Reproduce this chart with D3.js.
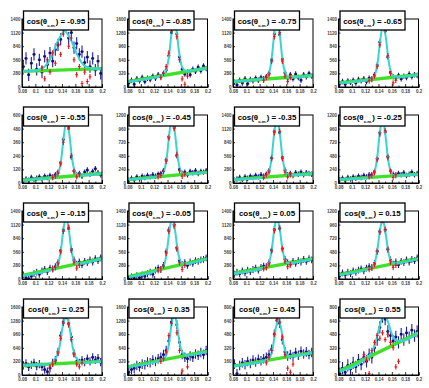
<!DOCTYPE html>
<html>
<head>
<meta charset="utf-8">
<script src="https://cdn.jsdelivr.net/npm/d3@7"></script>
<style>
body { margin: 0; background: #fff; }
svg { display: block; font-family: "Liberation Sans", Arial, sans-serif; }
.axis path, .axis line { stroke: #000; stroke-width: 0.8; }
.axis text { font-size: 4.5px; font-weight: bold; fill: #444; }
.frame { fill: none; stroke: #000; stroke-width: 1; }
.title-box { fill: #fff; stroke: #000; stroke-width: 1.3; }
.title { font-size: 7.9px; font-weight: bold; fill: #000; }
</style>
</head>
<body>
<svg id="chart"></svg>
<script>
// cos(theta_cm) bins, one panel each
const labels = ['-0.95', '-0.85', '-0.75', '-0.65', '-0.55', '-0.45', '-0.35', '-0.25',
                '-0.15', '-0.05', '0.05', '0.15', '0.25', '0.35', '0.45', '0.55'];

// top of y axis in counts (value 100 on the plot scale)
const yTop = [1400, 1600, 1400, 1400, 600, 1200, 1400, 1200, 1400, 1400, 1400, 1200, 1600, 1600, 800, 800];

const xTicks = [0.08, 0.1, 0.12, 0.14, 0.16, 0.18, 0.2];
const xMinor = [0.09, 0.11, 0.13, 0.15, 0.17, 0.19];

const binCenters = [0.082, 0.086, 0.09, 0.094, 0.098, 0.102, 0.106, 0.11, 0.114, 0.118,
                    0.122, 0.126, 0.13, 0.134, 0.138, 0.142, 0.146, 0.15, 0.154, 0.158,
                    0.162, 0.166, 0.17, 0.174, 0.178, 0.182, 0.186, 0.19, 0.194, 0.198];

// data histograms (blue), in percent of the y range
const blue = [
    [30, 42, 18, 35, 48, 26, 40, 22, 45, 33, 50, 38, 55, 62, 70, 85, 92, 72, 80, 58, 64, 48, 52, 36, 44, 30, 42, 25, 38, 20],
    [6, 10, 4, 12, 9, 14, 8, 13, 11, 16, 13, 18, 15, 20, 25, 46, 80, 100, 78, 44, 26, 19, 22, 18, 26, 23, 29, 24, 31, 27],
    [7, 3, 10, 6, 12, 5, 11, 9, 13, 10, 14, 12, 15, 20, 40, 78, 100, 77, 41, 21, 13, 18, 12, 19, 14, 10, 18, 15, 20, 16],
    [5, 8, 4, 9, 7, 10, 6, 11, 9, 12, 8, 13, 11, 18, 32, 66, 92, 82, 44, 22, 15, 13, 17, 12, 16, 14, 19, 15, 18, 17],
    [3, 6, 4, 8, 5, 7, 9, 6, 10, 8, 11, 9, 12, 16, 30, 64, 92, 80, 38, 18, 12, 14, 10, 16, 19, 13, 17, 21, 15, 12],
    [4, 7, 5, 9, 6, 10, 8, 11, 9, 12, 10, 13, 14, 18, 34, 68, 95, 82, 40, 20, 14, 16, 12, 17, 15, 18, 14, 17, 16, 18],
    [4, 6, 8, 5, 9, 7, 10, 8, 11, 9, 12, 10, 13, 18, 37, 76, 96, 74, 38, 19, 12, 14, 11, 15, 13, 16, 12, 15, 14, 13],
    [5, 7, 4, 8, 6, 9, 7, 10, 8, 11, 9, 12, 12, 17, 36, 74, 95, 75, 39, 18, 13, 11, 14, 12, 15, 11, 13, 16, 12, 14],
    [6, 2, 0, 4, 8, 10, 7, 12, 14, 11, 16, 15, 18, 24, 42, 72, 90, 74, 44, 28, 22, 25, 21, 26, 24, 28, 25, 30, 27, 31],
    [0, 3, 1, 5, 2, 6, 4, 8, 10, 7, 13, 16, 14, 20, 40, 72, 90, 80, 46, 27, 21, 24, 20, 25, 23, 27, 26, 28, 29, 31],
    [7, 10, 8, 12, 9, 13, 11, 14, 16, 13, 17, 19, 18, 24, 43, 73, 90, 74, 45, 29, 24, 22, 26, 23, 27, 25, 29, 26, 30, 28],
    [5, 9, 6, 10, 8, 12, 10, 13, 15, 12, 16, 18, 17, 23, 41, 70, 88, 72, 44, 28, 22, 25, 21, 26, 24, 28, 25, 29, 27, 31],
    [14, 17, 12, 15, 18, 13, 16, 12, 8, 5, 10, 18, 22, 34, 58, 78, 88, 76, 56, 32, 20, 18, 22, 19, 24, 20, 26, 22, 25, 19],
    [4, 8, 10, 14, 12, 16, 15, 19, 18, 22, 20, 24, 26, 30, 36, 50, 78, 90, 74, 48, 30, 26, 24, 28, 26, 31, 29, 33, 30, 36],
    [16, 2, 14, 18, 15, 20, 17, 22, 19, 23, 21, 24, 26, 30, 38, 60, 80, 76, 52, 34, 28, 30, 27, 33, 29, 35, 31, 34, 30, 33],
    [2, 10, 4, 14, 9, 18, 12, 22, 16, 26, 20, 30, 26, 40, 52, 70, 86, 82, 64, 58, 50, 56, 48, 60, 52, 62, 55, 66, 58, 64]
];
const blueErr = [9, 4, 4, 4, 4, 4, 4, 4, 5, 5, 5, 5, 6, 7, 7, 9];

// second sample (red), first bin index and values
const redStart = [7, 12, 11, 11, 11, 11, 11, 11, 11, 11, 11, 11, 10, 12, 12, 9];
const red = [
    [28, 12, 40, 22, 50, 35, 62, 48, 78, 95, 60, 72, 40, 18, 30, 5, 22, 8, 15],
    [14, 20, 30, 50, 82, 96, 74, 40, 12, 4, 16],
    [10, 14, 18, 38, 74, 96, 80, 38, 16, 8, 14],
    [9, 12, 16, 30, 62, 90, 84, 46, 20, 6, 10],
    [8, 10, 14, 28, 60, 90, 82, 40, 17, 9, 12],
    [9, 11, 17, 32, 66, 94, 80, 42, 18, 10, 13],
    [8, 12, 16, 36, 74, 94, 76, 36, 16, 9, 12],
    [9, 11, 15, 34, 72, 93, 77, 37, 17, 8, 12],
    [14, 17, 22, 40, 70, 88, 76, 42, 25, 16, 20],
    [12, 15, 19, 38, 70, 88, 78, 44, 24, 14, 20],
    [15, 17, 22, 41, 71, 88, 75, 44, 26, 18, 21],
    [14, 16, 21, 40, 69, 86, 73, 43, 25, 17, 20],
    [12, 16, 20, 32, 54, 76, 86, 74, 52, 30, 16, 12, 18],
    [20, 24, 34, 58, 76, 88, 62, 36, 6, -6, 12],
    [18, 26, 36, 60, 82, 78, 56, 30, 10, 4, 16],
    [30, 22, 2, 36, 48, 58, 54, 62, 52, 60, 48, 40, 12, 20]
];

// linear background (green), value at left and right edge
const green = [[23, 27], [8, 28], [8, 17], [6, 18], [4, 14], [5, 16], [5, 14], [5, 13],
               [5, 30], [3, 30], [8, 30], [6, 30], [14, 20], [12, 35], [13, 33], [5, 62]];

// total fit (cyan)
const cyan = [
    [[0.08, 23], [0.099, 24], [0.114, 30], [0.124, 44], [0.134, 68], [0.144, 82], [0.154, 68], [0.164, 45], [0.174, 31], [0.189, 27], [0.2, 27]],
    [[0.08, 8], [0.132, 17], [0.138, 25], [0.142, 44], [0.146, 78], [0.15, 98], [0.154, 79], [0.158, 47], [0.162, 29], [0.168, 24], [0.2, 28]],
    [[0.08, 8], [0.128, 12], [0.134, 20], [0.138, 42], [0.142, 79], [0.146, 100], [0.15, 79], [0.154, 42], [0.158, 22], [0.164, 14.5], [0.2, 17]],
    [[0.08, 6], [0.129, 11], [0.135, 19], [0.139, 38], [0.143, 72], [0.147, 92], [0.151, 73], [0.155, 40], [0.159, 21], [0.165, 14.5], [0.2, 18]],
    [[0.08, 4], [0.129, 8], [0.135, 16], [0.139, 36], [0.143, 71], [0.147, 92], [0.151, 72], [0.155, 37], [0.159, 18], [0.165, 11], [0.2, 14]],
    [[0.08, 5], [0.129, 9.5], [0.135, 18], [0.139, 38], [0.143, 75], [0.147, 95], [0.151, 75], [0.155, 40], [0.159, 20], [0.165, 12.8], [0.2, 16]],
    [[0.08, 5], [0.128, 8.6], [0.134, 17], [0.138, 37], [0.142, 75], [0.146, 95], [0.15, 75], [0.154, 39], [0.158, 19], [0.164, 11.5], [0.2, 14]],
    [[0.08, 5], [0.128, 8.2], [0.134, 16], [0.138, 37], [0.142, 74], [0.146, 94], [0.15, 74], [0.154, 38], [0.158, 18], [0.164, 10.6], [0.2, 13]],
    [[0.08, 5], [0.128, 15], [0.134, 22], [0.138, 40], [0.142, 72], [0.146, 90], [0.15, 74], [0.154, 43], [0.158, 27], [0.164, 22.5], [0.2, 30]],
    [[0.08, 3], [0.129, 14], [0.135, 21], [0.139, 40], [0.143, 72], [0.147, 90], [0.151, 74], [0.155, 44], [0.159, 27], [0.165, 22.1], [0.2, 30]],
    [[0.08, 8], [0.128, 16.8], [0.134, 24], [0.138, 42], [0.142, 73], [0.146, 90], [0.15, 74], [0.154, 45], [0.158, 28], [0.164, 23.4], [0.2, 30]],
    [[0.08, 6], [0.128, 15.6], [0.134, 23], [0.138, 41], [0.142, 70], [0.146, 88], [0.15, 72], [0.154, 44], [0.158, 28], [0.164, 22.8], [0.2, 30]],
    [[0.08, 14], [0.122, 16], [0.13, 23], [0.136, 40], [0.141, 71], [0.146, 88], [0.151, 72], [0.156, 41], [0.162, 24], [0.17, 18.5], [0.2, 20]],
    [[0.08, 12], [0.132, 22], [0.138, 29], [0.142, 45], [0.146, 74], [0.15, 90], [0.154, 75], [0.158, 48], [0.162, 34], [0.168, 28.8], [0.2, 35]],
    [[0.08, 13], [0.13, 21.3], [0.136, 27], [0.14, 42], [0.144, 68], [0.148, 82], [0.152, 69], [0.156, 45], [0.16, 31], [0.166, 27.3], [0.2, 33]],
    [[0.08, 5], [0.121, 24.5], [0.13, 34], [0.136, 49], [0.142, 73], [0.148, 88], [0.154, 79], [0.16, 60], [0.166, 51], [0.175, 50], [0.2, 62]]
];

const W = 429, H = 388;
const fw = 80, fh = 68;

const svg = d3.select('#chart')
    .attr('width', W)
    .attr('height', H);

const x = d3.scaleLinear().domain([0.08, 0.2]).range([0, fw]);
const y = d3.scaleLinear().domain([0, 100]).range([fh, 0]);

const fitLine = d3.line()
    .x(d => x(d[0]))
    .y(d => y(d[1]))
    .curve(d3.curveMonotoneX);

labels.forEach((lab, p) => {
    const col = p % 4, row = Math.floor(p / 4);
    const g = svg.append('g')
        .attr('transform', `translate(${22 + 105.5 * col},${19 + 96 * row})`);

    g.append('clipPath').attr('id', 'clip' + p)
        .append('rect').attr('width', fw).attr('height', fh);

    const plot = g.append('g').attr('clip-path', `url(#clip${p})`);

    // blue data points with error bars
    const pts = plot.append('g').attr('stroke', '#1a1ab4').attr('stroke-width', 1.1);
    blue[p].forEach((v, i) => {
        const cx = x(binCenters[i]);
        pts.append('line')
            .attr('x1', cx).attr('x2', cx)
            .attr('y1', y(v - blueErr[p])).attr('y2', y(v + blueErr[p]));
        pts.append('line')
            .attr('x1', cx - 1.5).attr('x2', cx + 1.5)
            .attr('y1', y(v)).attr('y2', y(v));
        pts.append('rect')
            .attr('x', cx - 1.2).attr('y', y(v) - 1.2)
            .attr('width', 2.4).attr('height', 2.4)
            .attr('fill', '#0e0e6e').attr('stroke', 'none');
    });

    // background
    plot.append('line')
        .attr('x1', x(0.08)).attr('x2', x(0.2))
        .attr('y1', y(green[p][0])).attr('y2', y(green[p][1]))
        .attr('stroke', '#3fe02a')
        .attr('stroke-width', 3.4);

    // total fit
    plot.append('path')
        .datum(cyan[p])
        .attr('d', fitLine)
        .attr('fill', 'none')
        .attr('stroke', '#3ad4d0')
        .attr('stroke-width', 2);

    // red points
    const rp = plot.append('g').attr('stroke', '#f01010').attr('stroke-width', 1.1);
    red[p].forEach((v, i) => {
        const cx = x(binCenters[redStart[p] + i]);
        rp.append('line')
            .attr('x1', cx).attr('x2', cx)
            .attr('y1', y(v - 4)).attr('y2', y(v + 4));
        rp.append('line')
            .attr('x1', cx - 1.3).attr('x2', cx + 1.3)
            .attr('y1', y(v)).attr('y2', y(v));
    });

    // axes
    g.append('g')
        .attr('class', 'axis')
        .attr('transform', `translate(0,${fh})`)
        .call(d3.axisBottom(x).tickValues(xTicks).tickSize(-3).tickPadding(2.5)
            .tickFormat(d3.format('.2~f')));

    g.append('g')
        .attr('class', 'axis')
        .attr('transform', `translate(0,${fh})`)
        .call(d3.axisBottom(x).tickValues(xMinor).tickSize(-1.5).tickFormat(''));

    g.append('g')
        .attr('class', 'axis')
        .call(d3.axisLeft(y).ticks(7).tickSize(-2).tickPadding(1.5)
            .tickFormat(d => Math.round(d * yTop[p] / 100)));

    g.append('rect')
        .attr('class', 'frame')
        .attr('width', fw)
        .attr('height', fh);

    // title box
    g.append('rect')
        .attr('class', 'title-box')
        .attr('x', 1.5)
        .attr('y', -8)
        .attr('width', 65)
        .attr('height', 19);

    const t = g.append('text')
        .attr('class', 'title')
        .attr('x', 34)
        .attr('y', 5)
        .attr('text-anchor', 'middle');
    t.append('tspan').text('cos(θ');
    t.append('tspan').attr('font-size', '4.3px').attr('dy', 2.5).text('c.m.');
    t.append('tspan').attr('dy', -2.5).text(') = ' + lab);
});
</script>
</body>
</html>
